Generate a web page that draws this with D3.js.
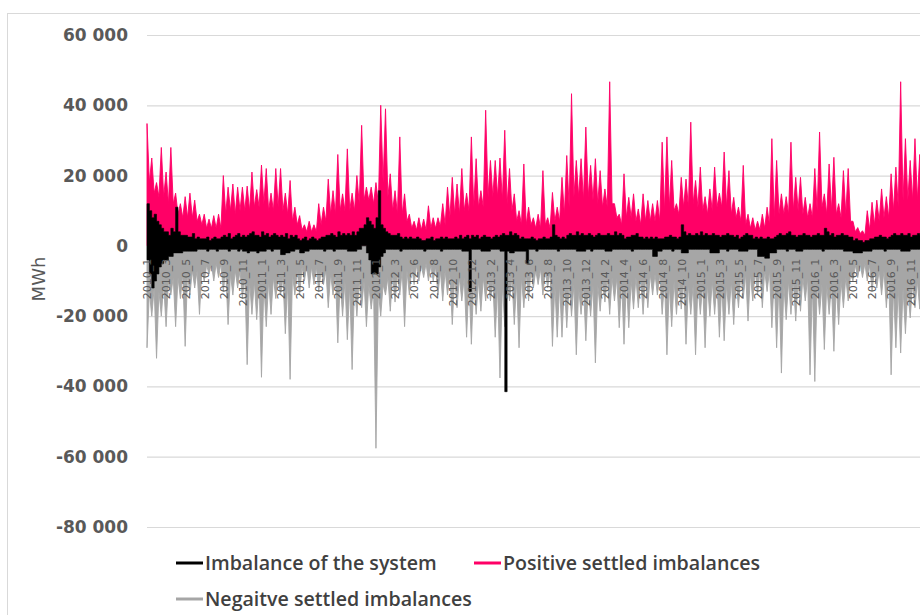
<!DOCTYPE html>
<html>
<head>
<meta charset="utf-8">
<script src="https://cdn.jsdelivr.net/npm/d3@7"></script>
<style>
  body { margin: 0; background: #fff; }
  svg { display: block; font-family: "DejaVu Sans", sans-serif; }
</style>
</head>
<body>
<svg id="chart" width="920" height="615"></svg>
<script>

const labels = ["2010_1","2010_3","2010_5","2010_7","2010_9","2010_11",
  "2011_1","2011_3","2011_5","2011_7","2011_9","2011_11",
  "2012_1","2012_3","2012_6","2012_8","2012_10","2012_12",
  "2013_2","2013_4","2013_6","2013_8","2013_10","2013_12",
  "2014_2","2014_4","2014_6","2014_8","2014_10",
  "2015_1","2015_3","2015_5","2015_7","2015_9","2015_11",
  "2016_1","2016_3","2016_5","2016_7","2016_9","2016_11"];

const yTicks = [60000, 40000, 20000, 0, -20000, -40000, -60000, -80000];

const seriesNames = ["Imbalance of the system", "Positive settled imbalances", "Negaitve settled imbalances"];

// thousand MWh, 8 readings per label step (spike, dip, spike, dip ...)
const positive = [
  34.8, 18, 25, 15, 18, 14, 28, 14,
  21, 12, 28, 12, 15, 9, 12, 8,
  14, 8, 15, 8, 13, 7, 9, 6,
  9, 5, 7.6, 5, 8.6, 5, 9, 5,
  20, 9, 16.7, 10, 17.6, 9, 16.7, 10,
  16.7, 10, 17, 10, 21, 11, 16, 11,
  23, 12, 22, 10, 15, 10, 22, 11,
  22, 10, 15, 9, 18.6, 7, 11, 6,
  8.6, 4.5, 6, 4, 7, 4, 6, 4,
  12, 6, 11, 7, 19, 9, 15.7, 9,
  26, 10, 14.8, 10, 27.6, 10, 15, 10,
  20, 12, 34.3, 13, 16.7, 13, 16.7, 12,
  18, 12, 40, 18, 39, 14, 20.5, 10,
  15.7, 9, 31, 9, 14.8, 7, 9, 5,
  7, 4.5, 8, 4.5, 7.6, 4.5, 11.4, 5,
  8, 5, 8, 5.5, 12, 6, 16.7, 8,
  19.5, 9, 17.6, 9, 22, 10, 15, 10,
  31, 11, 24.8, 11, 15.7, 11, 38.6, 14,
  24.3, 14, 24.3, 14, 25, 13, 32.9, 12,
  22, 10, 14.8, 7, 10, 6, 23.3, 6,
  11, 6, 8, 5, 9, 5, 21.4, 6,
  8, 5, 15.2, 7, 11, 7, 19.5, 9,
  25.7, 11, 43.3, 14, 24.3, 14, 24.8, 13,
  33.8, 14, 22.9, 13, 24.8, 12, 21.4, 11,
  16.2, 11, 46.7, 12, 12, 8, 9, 6,
  20.5, 8, 13.8, 8, 14.8, 7, 10.5, 6,
  14.8, 7, 12.9, 7, 12, 7, 12.9, 7,
  29.5, 10, 31, 11, 24.3, 10, 12, 9,
  19.5, 11, 19, 11, 35.2, 12, 18.6, 11,
  22.4, 10, 14, 9, 16.2, 10, 22.4, 11,
  15, 11, 26.7, 11, 21.4, 9, 13.8, 8,
  11, 7, 22.9, 6, 9, 5, 8, 4.5,
  7, 4.5, 9, 5, 11, 6, 30.5, 8,
  24.3, 9, 14.8, 9, 14, 9, 29.5, 10,
  19.5, 10, 19.5, 9, 13.8, 8, 12, 8,
  22, 10, 32.4, 11, 14.8, 9, 23.3, 10,
  25.2, 9, 12, 8, 21.4, 9, 22, 7,
  7, 4, 5.2, 3.5, 4.3, 3, 10, 4.5,
  12.4, 6, 13, 7, 16.2, 8, 14, 8,
  20.5, 10, 22.4, 11, 46.7, 13, 30.5, 13,
  24.3, 13, 30.5, 13, 26, 12, 22, 12
];

const negative = [
  -29, -13, -20, -12, -32, -13, -20, -11,
  -23, -10, -14, -9, -23, -9, -15, -8,
  -28.6, -8, -14, -7, -12, -7, -19.5, -7,
  -10, -5.5, -8, -5, -10, -5, -9, -5,
  -13, -7, -22.4, -8, -14, -7, -12, -7,
  -15, -9, -33.8, -10, -19.5, -10, -21, -10,
  -37.4, -11, -23, -10, -19.5, -9, -15, -9,
  -14, -9, -25, -10, -38, -8, -14, -7,
  -14, -6, -10, -5.5, -12, -6, -11, -6,
  -13, -7, -11, -7, -17.6, -8, -14, -8,
  -27.6, -10, -20, -10, -26.7, -11, -35.2, -11,
  -20, -10, -17.6, -10, -23, -11, -18, -12,
  -57.6, -13, -20, -11, -14, -9, -18.6, -8,
  -16, -8, -14, -7, -23, -7, -14, -6,
  -11, -5.5, -10, -5.5, -9, -5, -10, -5.5,
  -10, -6, -14, -7, -15.7, -7, -14, -8,
  -22.4, -9, -17.6, -9, -15.7, -9, -26, -10,
  -28, -10, -19.5, -10, -18.6, -9, -15.7, -9,
  -15.7, -10, -26, -11, -37.6, -11, -23, -10,
  -15.7, -9, -22.4, -10, -29, -9, -17.6, -8,
  -15.7, -7, -12, -7, -11, -6.5, -14, -7,
  -12, -7, -28.6, -11, -26, -11, -26, -11,
  -23.3, -11, -20, -11, -31, -12, -19.5, -11,
  -27, -12, -20, -11, -33.3, -11, -18.6, -10,
  -16, -9, -19.5, -9, -15.7, -9, -23.3, -10,
  -28, -10, -23.3, -10, -18, -9, -17.6, -9,
  -19.5, -9, -17.6, -8, -14, -8, -14, -8,
  -19.5, -10, -31, -11, -23, -10, -19.5, -10,
  -18, -10, -28, -11, -19.5, -11, -31, -11,
  -19.5, -11, -29, -11, -20, -10, -19.5, -10,
  -26, -11, -27, -11, -19.5, -10, -22.4, -10,
  -17.6, -8, -15, -8, -21.4, -8, -15.7, -7,
  -14, -7, -17.6, -7, -13, -7, -23.3, -9,
  -29, -10, -36.2, -11, -21, -10, -19.5, -10,
  -21.4, -10, -18.6, -9, -15.7, -9, -36.7, -11,
  -38.6, -11, -19.5, -11, -29.5, -11, -19.5, -11,
  -30, -11, -22.4, -10, -17.6, -9, -15.7, -8,
  -10, -5.5, -9, -5, -9, -5, -10, -5.5,
  -12.9, -7, -12, -7, -14, -7, -17.6, -8,
  -36.7, -12, -29, -12, -30.5, -12, -25, -12,
  -20.5, -11, -17.6, -10, -18, -10, -16, -10
];

// thousand MWh, upper and lower edge of the system imbalance band, 8 readings per label step
const systemHigh = [
  12, 10, 8, 9, 7, 6, 5, 4,
  4, 3, 5, 4, 11, 4, 3, 3,
  3, 2.5, 2.5, 3.5, 2, 2.5, 2, 2,
  2, 2.5, 1.5, 2, 2.5, 2, 2, 2.5,
  3, 2.5, 3.5, 2, 2.5, 3, 3.5, 2.5,
  3, 2.5, 3, 3.5, 4, 3, 3, 2.5,
  4, 3, 3.5, 2.5, 3, 3.5, 3, 2.5,
  3, 2.5, 3.5, 2, 3, 2.5, 3, 2,
  1.5, 2, 2.5, 1.5, 2, 2.5, 2, 1.5,
  2, 2.5, 2.5, 3, 3, 3.5, 3, 2.5,
  4, 3, 3.5, 3, 3.5, 3, 4, 3,
  4, 5, 5, 6, 8, 7, 6, 5,
  8, 15.7, 6, 5, 4, 3.5, 3, 3,
  3, 3.5, 2.5, 2, 2.5, 2, 2.5, 2,
  2, 2.5, 2, 1.5, 1.5, 2, 2, 2.5,
  1.5, 2, 2, 2.5, 2, 2.5, 2, 2,
  2, 2.5, 2, 3, 2, 2.5, 3, 2,
  3, 2.5, 3, 2, 2.5, 3, 2.5, 2.5,
  2, 2.5, 3, 2.5, 3, 3.5, 3, 3,
  4, 3, 3.5, 3, 2, 2.5, 2, 2,
  2, 2.5, 2, 1.5, 2, 2, 2.5, 2,
  2, 2.5, 6, 3, 2.5, 2, 2.5, 2,
  3, 3.5, 3, 3, 4, 3, 3.5, 3,
  3, 3.5, 3, 2.5, 3, 3.5, 3, 3,
  3, 3.5, 3, 3, 4, 3, 3.5, 3,
  2, 2.5, 2.5, 3, 3, 3.5, 2.5, 2.5,
  2, 2.5, 2, 2.5, 2, 2.5, 2, 2,
  2, 2.5, 2.5, 3, 2.5, 2.5, 2, 2.5,
  6, 4, 3, 3.5, 3, 3, 3.5, 3,
  4, 3, 3.5, 3, 3, 3.5, 3, 3,
  2.5, 3, 3, 3.5, 3, 3, 2.5, 3,
  2, 2.5, 3, 3.5, 3, 3, 2, 2.5,
  2, 2.5, 2, 2, 2.5, 2, 2, 2.5,
  3, 3.5, 3, 3, 3.5, 4, 3, 3,
  2.5, 3, 3, 3.5, 3, 3, 2.5, 3,
  3, 3.5, 3, 3, 5, 4, 3, 3.5,
  2.5, 3, 3, 3.5, 3, 3, 2.5, 2.5,
  1.5, 2, 1.5, 1.5, 1, 1.5, 1.5, 2,
  2, 2.5, 2.5, 3, 2.5, 2.5, 2, 2.5,
  3, 3.5, 3, 3, 3.5, 3, 3, 3.5,
  2.5, 3, 3, 3.5, 3, 3, 3, 3
];

const systemLow = [
  -4, -8, -12, -10, -8, -6, -5, -4,
  -4, -3, -3, -2, -2, -2, -2, -1.5,
  -1.5, -1.5, -1.5, -1.5, -1.5, -1, -1, -1,
  -1, -1.5, -1, -1, -1, -1.5, -1, -1,
  -1, -1, -1.5, -1, -1, -1, -1.5, -1,
  -1.5, -1.5, -2, -1.5, -1.5, -1.5, -2, -1.5,
  -1.5, -1.5, -1, -1, -1.5, -1, -1, -1,
  -2.5, -2.5, -2, -2, -1.5, -1.5, -1, -1,
  -2, -2, -1.5, -1.5, -1, -1, -1, -1,
  -1, -1, -1.5, -1, -1, -1, -1.5, -1,
  -1, -1, -1, -1, -1.5, -1.5, -1.5, -1.5,
  -1, -1, 0, 0, -2, -4, -8, -8,
  -8, -6, -3, -2, -1, -1, -1, -1,
  -1, -1, -1.5, -1, -1, -1, -1, -1,
  -1, -1, -1, -1, -1.5, -1, -1, -1,
  -1, -1, -1, -1.5, -1, -1, -1, -1,
  -1, -1, -1, -1, -1.5, -1.5, -1.5, -13,
  -1, -1, -1, -1, -1.5, -1.5, -1.5, -1.5,
  -1, -1, -1, -1, -1.5, -1.5, -41.5, -1.5,
  -2, -2, -1.5, -1.5, -1.5, -1.5, -1.5, -5,
  -1, -1, -1, -1.5, -1, -1, -1, -1,
  -1, -1, -1, -1, -1.5, -1, -1, -1,
  -1, -1, -1, -1, -1.5, -1.5, -1.5, -1.5,
  -1, -1, -1.5, -1, -1, -1, -1, -1,
  -1.5, -1.5, -1.5, -1, -1, -1, -1, -1,
  -1, -1, -1, -1.5, -1, -1, -1, -1,
  -1, -1, -1, -1, -3, -3, -1.5, -1.5,
  -1, -1, -1, -1, -1.5, -1, -1, -1,
  -2, -2, -2, -1, -1, -1, -1, -1,
  -1, -1, -1, -1, -2, -2, -2, -2,
  -1, -1, -1, -1.5, -1, -1, -1, -1,
  -1.5, -1.5, -1.5, -1.5, -1, -1, -1, -1,
  -3, -3, -3, -3.5, -3.5, -2, -2, -2,
  -1, -1, -1, -1, -1.5, -1, -1, -1,
  -1.5, -1.5, -1.5, -1, -1, -1, -1, -1,
  -1, -1, -1, -1.5, -1, -1, -1, -1,
  -1, -1, -1, -1, -1.5, -1.5, -1.5, -1.5,
  -2, -2, -2, -2, -1.5, -1.5, -1.5, -1.5,
  -1, -1, -1, -1, -1, -1.5, -1, -1,
  -1, -1, -1, -1, -1.5, -1.5, -1.5, -1.5,
  -1, -1, -1, -1, -1, -1, -1, -1
];

const svg = d3.select("#chart");

const x = d3.scaleLinear()
    .domain([0, labels.length])
    .range([147, 147 + labels.length * 19.08]);

const y = d3.scaleLinear()
    .domain([-80000, 60000])
    .range([527, 35]);

const fmt = d3.formatLocale({decimal: ".", thousands: " ", grouping: [3], currency: ["", ""], minus: "-"}).format(",");

// chart frame
svg.append("rect")
    .attr("x", 7.5).attr("y", 13.5)
    .attr("width", 1000).attr("height", 700)
    .attr("fill", "#fff")
    .attr("stroke", "#d9d9d9");

// gridlines
svg.append("g")
    .attr("transform", "translate(" + x(0) + ",0)")
    .call(d3.axisLeft(y).tickValues(yTicks).tickSize(-900).tickFormat(""))
    .call(g => g.select(".domain").remove())
    .call(g => g.selectAll("line").attr("stroke", "#d9d9d9").attr("stroke-width", 1.2));

const toPoints = (arr, perStep) => arr.map((v, k) => [k / perStep, v * 1000]);

const drawSeries = (points, color) => {
    let area = d3.area()
        .x(d => x(d[0]))
        .y0(y(0))
        .y1(d => y(d[1]));
    svg.append("path")
        .datum(points)
        .attr("d", area)
        .attr("fill", color)
        .attr("stroke", color)
        .attr("stroke-width", 0.9)
        .attr("stroke-linejoin", "round");
}

drawSeries(toPoints(positive, 8), "#ff0066");
drawSeries(toPoints(negative, 8), "#a6a6a6");

// system imbalance band
let band = systemHigh.map((v, k) => [k / 8, systemLow[k] * 1000, v * 1000]);
svg.append("path")
    .datum(band)
    .attr("d", d3.area()
        .curve(d3.curveStepAfter)
        .x(d => x(d[0]))
        .y0(d => y(d[1]))
        .y1(d => y(d[2])))
    .attr("fill", "#000")
    .attr("stroke", "#000")
    .attr("stroke-width", 0.6);

// y axis labels
svg.append("g")
    .attr("transform", "translate(128,0)")
    .call(d3.axisLeft(y).tickValues(yTicks).tickSize(0).tickPadding(0).tickFormat(fmt))
    .call(g => g.select(".domain").remove())
    .call(g => g.selectAll("text")
        .attr("font-family", "DejaVu Sans")
        .attr("font-size", 17)
        .attr("font-weight", "bold")
        .attr("fill", "#595959"));

// x axis labels
svg.append("g")
    .attr("transform", "translate(0," + y(0) + ")")
    .call(d3.axisBottom(x).tickValues(d3.range(labels.length)).tickSize(0).tickFormat(i => labels[i]))
    .call(g => g.select(".domain").remove())
    .call(g => g.selectAll("text")
        .attr("font-family", "DejaVu Sans")
        .attr("font-size", 11)
        .attr("fill", "#595959")
        .attr("text-anchor", "end")
        .attr("transform", "translate(0,13) rotate(-90)")
        .attr("x", 0)
        .attr("y", 0)
        .attr("dy", "0.35em"));

svg.append("text")
    .attr("transform", "translate(45,279) rotate(-90)")
    .attr("text-anchor", "middle")
    .attr("font-size", 18)
    .attr("fill", "#595959")
    .text("MWh");

// legend
const legendColors = ["#000000", "#ff0066", "#a6a6a6"];
const legendPos = [[176, 563], [474, 563], [176, 599]];

const legend = svg.append("g")
    .selectAll("g")
    .data(seriesNames)
    .enter().append("g")
    .attr("transform", (d, i) => "translate(" + legendPos[i][0] + "," + legendPos[i][1] + ")");

legend.append("line")
    .attr("x1", 0).attr("x2", 27)
    .attr("stroke", (d, i) => legendColors[i])
    .attr("stroke-width", 3);

legend.append("text")
    .attr("x", 29)
    .attr("dy", "0.36em")
    .attr("font-family", "Open Sans")
    .attr("font-size", 19.6)
    .attr("font-weight", 600)
    .attr("fill", "#404040")
    .text(d => d);

</script>
</body>
</html>
